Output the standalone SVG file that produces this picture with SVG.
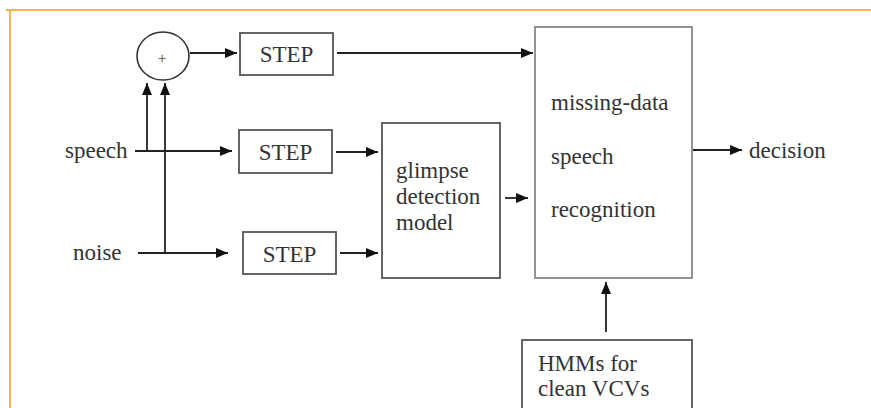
<svg xmlns="http://www.w3.org/2000/svg" width="871" height="408" viewBox="0 0 871 408">
<style>
.box{fill:#fff;stroke:#555;stroke-width:1.8}
.lbl{font-family:"Liberation Serif","Times New Roman",serif;font-size:23px;fill:#333}
.ln{stroke:#222;stroke-width:1.8;fill:none}
</style>
<defs>
<marker id="ah" markerUnits="userSpaceOnUse" markerWidth="12" markerHeight="10" refX="12" refY="5" orient="auto">
<path d="M0,0 L12,5 L0,10 z" fill="#111"/>
</marker>
</defs>
<rect width="871" height="408" fill="#fff"/>
<g id="frame" fill="none" stroke="#f5b452" stroke-width="2">
<line x1="6" y1="10" x2="871" y2="10"/>
<line x1="10" y1="10" x2="10" y2="408"/>
</g>
<g id="adder">
<ellipse cx="163" cy="56" rx="26" ry="24" fill="#fff" stroke="#333" stroke-width="1.6"/>
<text x="162" y="63" font-family="Liberation Sans,Arial,sans-serif" font-size="14" fill="#666" text-anchor="middle">+</text>
</g>
<g id="step1"><rect class="box" x="240" y="33" width="93" height="42"/><text class="lbl" x="286.5" y="62" text-anchor="middle">STEP</text></g>
<g id="step2"><rect class="box" x="239" y="130" width="93" height="43"/><text class="lbl" x="285.5" y="160" text-anchor="middle">STEP</text></g>
<g id="step3"><rect class="box" x="243" y="232" width="93" height="42"/><text class="lbl" x="289.5" y="262" text-anchor="middle">STEP</text></g>
<g id="glimpse"><rect class="box" x="382" y="123" width="118" height="155"/>
<text class="lbl" x="396" y="178">glimpse</text>
<text class="lbl" x="396" y="204">detection</text>
<text class="lbl" x="396" y="230">model</text></g>
<g id="recognizer"><rect class="box" x="535" y="27" width="157" height="251" style="stroke:#888"/>
<text class="lbl" x="551" y="110">missing-data</text>
<text class="lbl" x="551" y="164">speech</text>
<text class="lbl" x="551" y="217">recognition</text></g>
<g id="hmm"><rect class="box" x="522" y="340" width="170" height="80"/>
<text class="lbl" x="538" y="371">HMMs for</text>
<text class="lbl" x="538" y="396">clean VCVs</text></g>
<g id="labels">
<text class="lbl" x="65" y="158">speech</text>
<text class="lbl" x="73" y="260">noise</text>
<text class="lbl" x="749" y="158">decision</text>
</g>
<g id="connectors">
<line class="ln" x1="190" y1="53" x2="237" y2="53" marker-end="url(#ah)"/>
<line class="ln" x1="337" y1="53" x2="533" y2="53" marker-end="url(#ah)"/>
<line class="ln" x1="135" y1="151" x2="232" y2="151" marker-end="url(#ah)"/>
<polyline class="ln" points="147,151 147,83" marker-end="url(#ah)"/>
<line class="ln" x1="138" y1="253" x2="228" y2="253" marker-end="url(#ah)"/>
<polyline class="ln" points="165,253 165,83" marker-end="url(#ah)"/>
<line class="ln" x1="336" y1="152" x2="378" y2="152" marker-end="url(#ah)"/>
<line class="ln" x1="340" y1="253" x2="378" y2="253" marker-end="url(#ah)"/>
<line class="ln" x1="505" y1="198" x2="528" y2="198" marker-end="url(#ah)"/>
<line class="ln" x1="693" y1="150" x2="742" y2="150" marker-end="url(#ah)"/>
<line class="ln" x1="606" y1="332" x2="606" y2="282" marker-end="url(#ah)"/>
</g>
</svg>
